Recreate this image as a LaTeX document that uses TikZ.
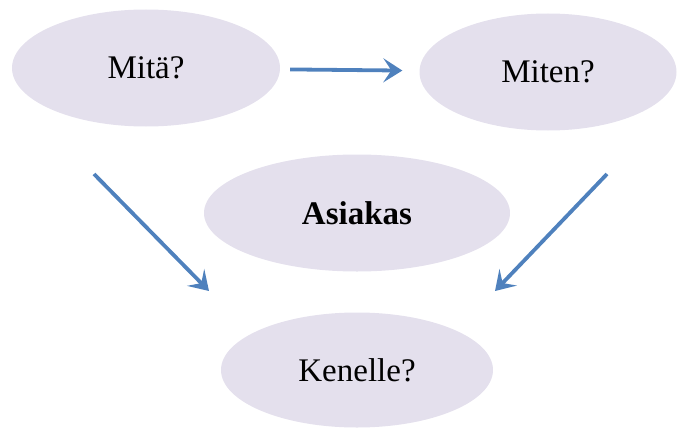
\documentclass[tikz,border=0pt]{standalone}
\usepackage{fontspec}
\setmainfont{Liberation Serif}
\usetikzlibrary{shapes.geometric,positioning,arrows.meta}

\definecolor{ovalfill}{RGB}{228,224,237}
\definecolor{arrowblue}{RGB}{79,129,189}

\begin{document}
\begin{tikzpicture}[x=1pt, y=1pt, on grid,
    oval/.style={ellipse, fill=ovalfill, minimum width=268pt, minimum height=117pt,
        inner sep=0pt, font=\fontsize{33}{38}\selectfont},
    flow/.style={-{Stealth[length=19pt,width=24pt,inset=8pt]}, line width=3.8pt, draw=arrowblue}]

    \useasboundingbox (0,0) rectangle (679,-428);

    % top row
    \node[oval] (mita) at (146,-68) {Mitä?};
    \node[oval, minimum width=257pt] (miten) [right=402pt of mita, yshift=-4pt] {Miten?};

    % middle and bottom
    \node[oval, minimum width=306pt] (asiakas) [below right=145pt and 211pt of mita] {\bfseries Asiakas};
    \node[oval, minimum width=272pt, minimum height=115pt] (kenelle) [below=157pt of asiakas] {Kenelle?};

    % free arrow ends
    \coordinate (lstart) at (94,-174);
    \coordinate (lend) at (209,-291);
    \coordinate (rstart) at (607,-174);
    \coordinate (rend) at (495,-291);

    \path
        (mita) edge[flow, shorten <=10pt, shorten >=17pt] (miten)
        (lstart) edge[flow] (lend)
        (rstart) edge[flow] (rend);

\end{tikzpicture}
\end{document}
